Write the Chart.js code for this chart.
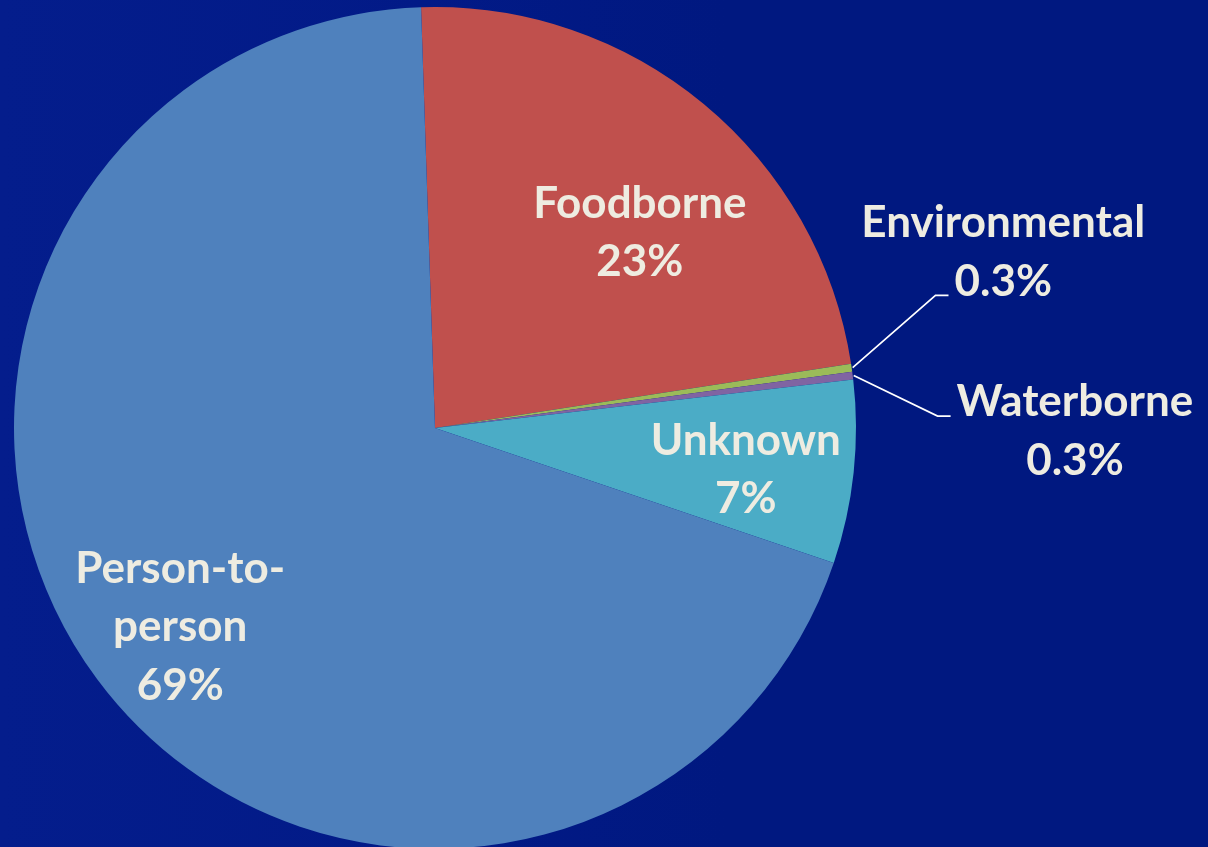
<!DOCTYPE html>
<html>
<head>
<meta charset="utf-8">
<title>Outbreaks by mode of transmission</title>
<script src="https://cdn.jsdelivr.net/npm/chart.js@4.4.1/dist/chart.umd.min.js"></script>
<style>
    html, body { margin: 0; padding: 0; }
    body {
        width: 1208px;
        height: 847px;
        overflow: hidden;
        background: linear-gradient(90deg, #041d8c 0%, #021a87 35%, #001880 60%, #001880 100%);
    }
    #wrap { position: relative; width: 1208px; height: 852px; }
</style>
</head>
<body>
<div id="wrap"><canvas id="pieChart"></canvas></div>
<script>
// Datos del gráfico
const categories = ['Foodborne', 'Environmental', 'Waterborne', 'Unknown', ['Person-to-', 'person']];
const shares = [23, 0.3, 0.3, 7, 69];
const sliceColors = ['#C0504D', '#9BBB59', '#8064A2', '#4BACC6', '#4F81BD'];

// posición de cada etiqueta: distancia al centro (en radios) y ángulo en grados (0 = las 3 en punto)
// leader = línea de texto a la que se une la guía
const labelSpots = [
    { dist: 0.672, angle: -43.6 },
    { dist: 1.413, angle: -17.2, leader: 1 },
    { dist: 1.52, angle: 0.3, leader: 0 },
    { dist: 0.745, angle: 7.7 },
    { dist: 0.768, angle: 142 }
];
const lineGap = 58.5;

// Etiquetas de cada porción (con guía para las pequeñas)
const sliceLabels = {
    id: 'sliceLabels',
    afterDatasetsDraw(chart) {
        const ctx = chart.ctx;
        const arcs = chart.getDatasetMeta(0).data;
        ctx.save();
        ctx.font = 'bold 44px Lato';
        ctx.textAlign = 'center';
        ctx.textBaseline = 'middle';
        arcs.forEach((arc, i) => {
            const { x, y, startAngle, endAngle, outerRadius } =
                arc.getProps(['x', 'y', 'startAngle', 'endAngle', 'outerRadius'], true);
            const spot = labelSpots[i];
            const a = spot.angle * Math.PI / 180;
            const cx = x + Math.cos(a) * outerRadius * spot.dist;
            const cy = y + Math.sin(a) * outerRadius * spot.dist;
            const lines = [].concat(categories[i], shares[i] + '%');
            const top = cy - (lines.length - 1) * lineGap / 2;

            if (spot.leader !== undefined) {
                const mid = (startAngle + endAngle) / 2;
                const sx = x + Math.cos(mid) * (outerRadius + 1);
                const sy = y + Math.sin(mid) * (outerRadius + 1);
                const w = ctx.measureText(lines[spot.leader]).width;
                const ly = top + spot.leader * lineGap + 14;
                const lx = cx - w / 2 - 6;
                ctx.beginPath();
                ctx.moveTo(sx, sy);
                ctx.lineTo(lx - 13, ly);
                ctx.lineTo(lx, ly);
                ctx.strokeStyle = '#ffffff';
                ctx.lineWidth = 1.7;
                ctx.stroke();
            }

            ctx.fillStyle = '#EEECE1';
            lines.forEach((t, k) => ctx.fillText(t, cx, top + k * lineGap));
        });
        ctx.restore();
    }
};

function drawChart() {
    const ctx = document.getElementById('pieChart').getContext('2d');
    new Chart(ctx, {
        type: 'pie',
        data: {
            labels: categories,
            datasets: [{
                data: shares,
                backgroundColor: sliceColors,
                borderWidth: 0,
                hoverOffset: 0
            }]
        },
        options: {
            responsive: true,
            maintainAspectRatio: false,
            animation: false,
            rotation: -1.9,
            radius: 421,
            layout: { padding: { left: 14, right: 352, top: 7, bottom: 3 } },
            plugins: {
                legend: { display: false },
                tooltip: { enabled: false }
            }
        },
        plugins: [sliceLabels]
    });
}

// esperar a la fuente antes de dibujar
document.fonts.load('bold 44px Lato').then(drawChart, drawChart);
</script>
</body>
</html>
